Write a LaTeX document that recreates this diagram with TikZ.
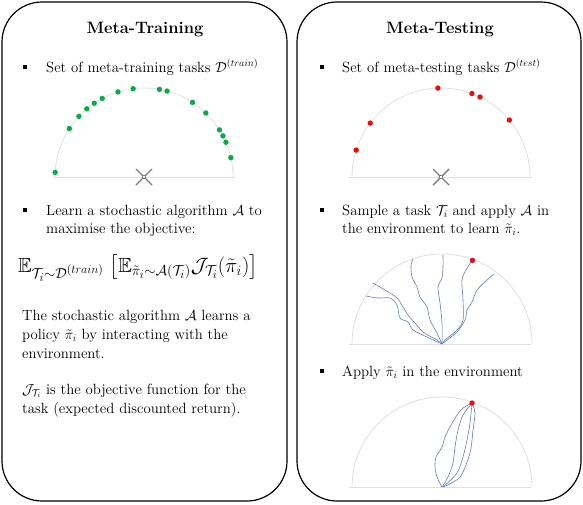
\documentclass[tikz,border=0pt]{standalone}
\usepackage{amsmath,amssymb}
\usetikzlibrary{positioning}
\DeclareMathSizes{20.5}{20.5}{15.5}{12}
\definecolor{dotgreen}{RGB}{10,170,70}
\definecolor{dotred}{RGB}{240,10,10}
\definecolor{trajblue}{RGB}{100,125,190}
\definecolor{arcgray}{RGB}{222,224,230}
\definecolor{markgray}{RGB}{125,125,125}
\tikzset{
	panel/.style={line width=1.2pt,rounded corners=40pt},
	heading/.style={font=\fontsize{16.5}{20}\selectfont\bfseries},
	body/.style={font=\fontsize{14.8}{18}\selectfont,anchor=base west,inner sep=0pt},
	bullet/.style={fill=black,minimum size=4.5pt,inner sep=0pt},
	halfcirc/.style={arcgray,line width=0.8pt},
	traj/.style={trajblue,line width=0.6pt},
}
\newcommand{\startmark}[1]{%
	\draw[markgray,line width=1.4pt] (#1) ++(-8,-8) -- ++(16,16);
	\draw[markgray,line width=1.4pt] (#1) ++(-8,8) -- ++(16,-16);
	\draw[markgray,fill=white,line width=0.8pt] (#1) ++(-1.8,-1.8) rectangle ++(3.6,3.6);}
\begin{document}
\begin{tikzpicture}[x=1pt,y=-1pt]
	\useasboundingbox (0,0) rectangle (583,504);
	%Panels
	\draw[panel] (2,2) rectangle (287,501);
	\draw[panel] (297,2) rectangle (581,501);
	
	%Meta-Training
	\node[heading] (trtitle) at (145,29) {Meta-Training};
	\node[bullet] (bl1) at (25,67) {};
	\node[body] (trset) at (46,72) {Set of meta-training tasks $\mathcal{D}^{(train)}$};
	
	%training tasks
	\coordinate (ctrA) at (144,177);
	\draw[halfcirc] (ctrA) ++(-90,0) -- ++(181,0);
	\draw[halfcirc] (ctrA) ++(180:89) arc[start angle=180,end angle=360,radius=89];
	\startmark{ctrA}
	\foreach \a in {177,147,137,130,124,118,107,97,80,75,57,46,32,27.5,23,12.6}
		\fill[dotgreen] (ctrA) ++(-\a:89) circle (2.7);
	
	\node[bullet] (bl2) at (25,210) {};
	\node[body] (learn1) at (46,215) {Learn a stochastic algorithm $\mathcal{A}$ to};
	\node[body] (learn2) at (46,233) {maximise the objective:};
	\node[body,anchor=base,font=\fontsize{20.5}{24}\selectfont] (obj) at (138,272)
		{$\mathbb{E}_{\mathcal{T}_i\sim\mathcal{D}^{(train)}}\;\big[\mathbb{E}_{\tilde{\pi}_i\sim\mathcal{A}(\mathcal{T}_i)}\mathcal{J}_{\mathcal{T}_i}(\tilde{\pi}_i)\big]$};
	
	\node[body] (desc1) at (22,320) {The stochastic algorithm $\mathcal{A}$ learns a};
	\node[body] (desc2) at (22,339) {policy $\tilde{\pi}_i$ by interacting with the};
	\node[body] (desc3) at (22,358) {environment.};
	\node[body] (desc4) at (22,394) {$\mathcal{J}_{\mathcal{T}_i}$ is the objective function for the};
	\node[body] (desc5) at (22,413) {task (expected discounted return).};
	
	%Meta-Testing
	\node[heading] (tetitle) at (440,29) {Meta-Testing};
	\node[bullet] (br1) at (322,67) {};
	\node[body] (teset) at (342,72) {Set of meta-testing tasks $\mathcal{D}^{(test)}$};
	
	%testing tasks
	\coordinate (ctrB) at (441,177);
	\draw[halfcirc] (ctrB) ++(-93,0) -- ++(184,0);
	\draw[halfcirc] (ctrB) ++(180:89) arc[start angle=180,end angle=360,radius=89];
	\startmark{ctrB}
	\foreach \a in {162.4,142.7,92,69.7,64,39.8}
		\fill[dotred] (ctrB) ++(-\a:89) circle (2.7);
	
	\node[bullet] (br2) at (322,210) {};
	\node[body] (samp1) at (342,215) {Sample a task $\mathcal{T}_i$ and apply $\mathcal{A}$ in};
	\node[body] (samp2) at (342,233) {the environment to learn $\tilde{\pi}_i$.};
	
	%learning trajectories
	\coordinate (ctrC) at (442,344);
	\draw[halfcirc] (ctrC) ++(-93,0) -- ++(182,0);
	\draw[halfcirc] (ctrC) ++(180:90) arc[start angle=180,end angle=360,radius=90];
	\draw[traj] plot[smooth,tension=0.5] coordinates {(366,296) (378,298) (390,298) (397,305) (400,318) (408,322) (413,330) (427,337) (442,344)};
	\draw[traj] plot[smooth,tension=0.5] coordinates {(373,283) (385,290) (397,298) (403,307) (408,315) (415,323) (423,332) (437,340) (442,344)};
	\draw[traj] plot[smooth,tension=0.5] coordinates {(413,259) (411,265) (412,277) (417,287) (420,297) (427,307) (430,320) (437,333) (442,344)};
	\draw[traj] plot[smooth,tension=0.5] coordinates {(443,255) (443,267) (442,278) (438,287) (440,303) (442,323) (442,344)};
	\draw[traj] plot[smooth,tension=0.5] coordinates {(472,261) (467,268) (462,280) (463,300) (463,320) (457,330) (445,340) (442,344)};
	\draw[traj] plot[smooth,tension=0.5] coordinates {(494,274) (487,280) (477,290) (472,302) (467,310) (465,320) (457,332) (447,340) (442,344)};
	\fill[dotred] (ctrC) ++(-70:89) circle (2.7);
	
	\node[bullet] (br3) at (322,371) {};
	\node[body] (apply) at (342,376) {Apply $\tilde{\pi}_i$ in the environment};
	
	%learned policy
	\coordinate (ctrD) at (442,487);
	\draw[halfcirc] (ctrD) ++(-93,0) -- ++(182,0);
	\draw[halfcirc] (ctrD) ++(180:90) arc[start angle=180,end angle=360,radius=90];
	\draw[traj] plot[smooth,tension=0.5] coordinates {(442,487) (437,477) (435,467) (436,457) (442,447) (445,437) (450,427) (457,415) (463,408) (472,403)};
	\draw[traj] plot[smooth,tension=0.5] coordinates {(442,487) (448,477) (453,463) (455,447) (458,430) (463,415) (472,403)};
	\draw[traj] plot[smooth,tension=0.5] coordinates {(443,487) (457,473) (463,457) (467,440) (470,423) (472,403)};
	\draw[traj] plot[smooth,tension=0.5] coordinates {(443,487) (460,477) (470,453) (473,430) (475,413) (472,403)};
	\fill[dotred] (472,403) circle (2.7);
	
\end{tikzpicture}
\end{document}
